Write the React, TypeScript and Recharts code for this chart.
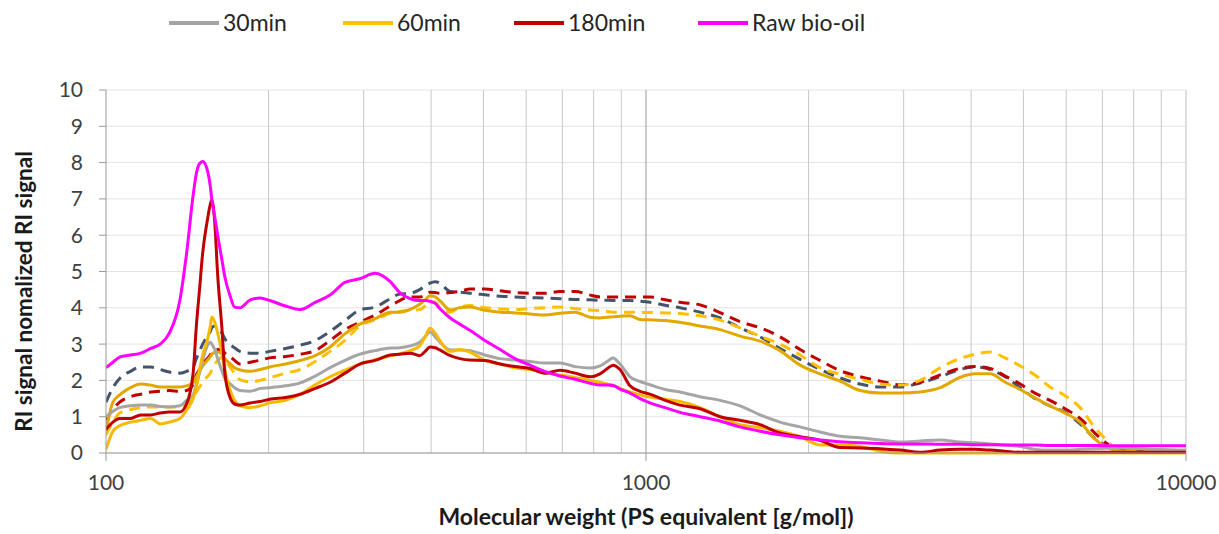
import React from 'react';
import { LineChart, Line, XAxis, YAxis, CartesianGrid, ReferenceLine, Legend, Label } from 'recharts';

// Molecular weight (PS equivalent, g/mol) sample points
const molecularWeight = [
  100, 103, 106, 111, 116, 121, 126, 131, 137, 141,
  145, 147, 149, 151, 154, 156, 157, 159, 161, 164,
  166, 170, 173, 177, 185, 193, 201, 215, 229, 244,
  260, 277, 295, 315, 336, 350, 366, 381, 390, 398,
  407, 415, 434, 452, 472, 503, 537, 572, 610, 650,
  693, 739, 788, 822, 847, 869, 895, 934, 975, 1017,
  1085, 1156, 1259, 1371, 1493, 1626, 1771, 1929, 2100, 2287,
  2491, 2713, 2955, 3218, 3505, 3811, 4065, 4337, 4624, 4930,
  5250, 5598, 5970, 6368, 6780, 7079, 7380, 7870, 8570, 9330, 10000,
];

const raw = [
  2.35, 2.5, 2.64, 2.7, 2.75, 2.88, 3.0, 3.3, 4.2, 5.5,
  7.1, 7.7, 7.97, 8.03, 7.8, 7.35, 7.0, 6.5, 6.0, 5.3,
  4.85, 4.3, 4.02, 4.0, 4.22, 4.27, 4.2, 4.05, 3.95, 4.15,
  4.35, 4.7, 4.8, 4.95, 4.72, 4.42, 4.25, 4.2, 4.2, 4.18,
  4.12, 3.98, 3.72, 3.55, 3.38, 3.1, 2.85, 2.6, 2.42, 2.25,
  2.12, 2.03, 1.92, 1.87, 1.87, 1.86, 1.76, 1.65, 1.5, 1.38,
  1.25, 1.12, 1.0, 0.88, 0.72, 0.6, 0.5, 0.42, 0.36, 0.31,
  0.28, 0.26, 0.25, 0.25, 0.24, 0.24, 0.23, 0.23, 0.22, 0.22,
  0.22, 0.21, 0.21, 0.21, 0.21, 0.2, 0.2, 0.2, 0.2, 0.2, 0.2,
];

const b30Dashed = [
  1.4, 1.8, 2.05, 2.25, 2.37, 2.37, 2.3, 2.23, 2.2, 2.25,
  2.37, 2.6, 2.8, 3.0, 3.2, 3.35, 3.45, 3.5, 3.45, 3.3,
  3.15, 2.98, 2.9, 2.8, 2.75, 2.75, 2.8, 2.88, 2.97, 3.1,
  3.35, 3.65, 3.94, 4.02, 4.25, 4.38, 4.4, 4.5, 4.6, 4.68,
  4.72, 4.68, 4.45, 4.43, 4.4, 4.36, 4.32, 4.3, 4.28, 4.27,
  4.25, 4.23, 4.22, 4.21, 4.21, 4.2, 4.2, 4.2, 4.18, 4.15,
  4.07, 4.0, 3.88, 3.72, 3.45, 3.2, 2.88, 2.58, 2.3, 2.07,
  1.9, 1.82, 1.82, 1.93, 2.1, 2.3, 2.37, 2.3, 2.1, 1.8,
  1.5, 1.3, 1.12, 0.8, 0.4, 0.22, 0.14, 0.1, 0.08, 0.06, 0.05,
];

const b180Dashed = [
  0.9, 1.2, 1.4, 1.55, 1.62, 1.68, 1.7, 1.72, 1.7, 1.72,
  1.9, 2.15, 2.3, 2.45, 2.6, 2.7, 2.78, 2.83, 2.85, 2.83,
  2.75, 2.65, 2.55, 2.45, 2.5, 2.56, 2.62, 2.66, 2.72, 2.82,
  3.1, 3.4, 3.6, 3.8, 4.05, 4.2, 4.3, 4.3, 4.35, 4.43,
  4.42, 4.4, 4.42, 4.45, 4.52, 4.52, 4.47, 4.42, 4.4, 4.4,
  4.45, 4.45, 4.35, 4.3, 4.3, 4.3, 4.3, 4.3, 4.3, 4.3,
  4.22, 4.15, 4.08, 3.87, 3.62, 3.45, 3.2, 2.85, 2.55, 2.27,
  2.1, 1.98, 1.88, 1.95, 2.15, 2.33, 2.38, 2.33, 2.12, 1.9,
  1.65, 1.45, 1.22, 0.95, 0.55, 0.3, 0.15, 0.06, 0.03, 0.03, 0.03,
];

const b60Dashed = [
  0.5, 0.85, 1.1, 1.2, 1.25, 1.27, 1.27, 1.27, 1.27, 1.35,
  1.54, 1.68, 1.82, 1.95, 2.1, 2.2, 2.3, 2.45, 2.55, 2.64,
  2.55, 2.35, 2.2, 2.02, 1.96, 2.0, 2.07, 2.2, 2.3, 2.52,
  2.8, 3.1, 3.5, 3.67, 3.85, 3.9, 3.93, 3.95, 4.05, 4.15,
  4.15, 4.0, 3.88, 4.02, 4.06, 4.0, 3.97, 3.95, 3.98, 4.0,
  4.02, 3.98, 3.94, 3.92, 3.9, 3.88, 3.88, 3.88, 3.87, 3.87,
  3.86, 3.84, 3.78, 3.66, 3.45, 3.22, 3.0, 2.7, 2.35, 2.17,
  2.03, 1.9, 1.87, 2.0, 2.35, 2.6, 2.72, 2.78, 2.62, 2.4,
  2.15, 1.82, 1.58, 1.25, 0.7, 0.4, 0.15, 0.05, 0.03, 0.02, 0.02,
];

const b60Solid = [
  0.6, 1.4, 1.6, 1.8, 1.9, 1.87, 1.82, 1.82, 1.82, 1.85,
  1.93, 2.1, 2.25, 2.4, 2.55, 2.65, 2.72, 2.77, 2.78, 2.72,
  2.6, 2.45, 2.35, 2.29, 2.25, 2.3, 2.37, 2.45, 2.55, 2.68,
  2.92, 3.28, 3.55, 3.7, 3.88, 3.88, 3.96, 4.1, 4.22, 4.33,
  4.3, 4.2, 3.94, 4.0, 4.02, 3.93, 3.88, 3.86, 3.83, 3.8,
  3.85, 3.88, 3.74, 3.72, 3.74, 3.75, 3.77, 3.78, 3.68, 3.67,
  3.65, 3.6, 3.5, 3.4, 3.22, 3.08, 2.82, 2.42, 2.18, 1.98,
  1.72, 1.65, 1.65, 1.68, 1.8, 2.08, 2.18, 2.18, 1.95, 1.75,
  1.52, 1.3, 1.1, 0.85, 0.38, 0.18, 0.08, 0.03, 0.02, 0.02, 0.02,
];

const a30 = [
  1.0, 1.15, 1.25, 1.3, 1.32, 1.32, 1.28, 1.27, 1.3, 1.45,
  1.6, 1.9, 2.2, 2.55, 2.95, 3.05, 3.0, 2.85, 2.6, 2.25,
  2.05, 1.9, 1.8, 1.72, 1.7, 1.78, 1.8, 1.85, 1.93, 2.12,
  2.35, 2.55, 2.72, 2.82, 2.89, 2.9, 2.95, 3.05, 3.2, 3.33,
  3.2, 3.06, 2.84, 2.84, 2.82, 2.7, 2.6, 2.56, 2.52, 2.48,
  2.48, 2.38, 2.34, 2.4, 2.52, 2.62, 2.45, 2.1, 1.97, 1.88,
  1.75, 1.68, 1.55, 1.45, 1.3, 1.05, 0.85, 0.72, 0.58, 0.46,
  0.42, 0.36, 0.3, 0.33, 0.36, 0.3, 0.28, 0.25, 0.22, 0.18,
  0.1, 0.08, 0.08, 0.1, 0.12, 0.13, 0.14, 0.13, 0.1, 0.09, 0.08,
];

const a60 = [
  0.1, 0.6, 0.75, 0.85, 0.9, 0.95, 0.8, 0.85, 0.95, 1.18,
  1.5, 1.82, 2.3, 2.7, 3.1, 3.5, 3.75, 3.6, 3.3, 2.75,
  2.3, 1.7, 1.45, 1.3, 1.25, 1.3, 1.38, 1.45, 1.62, 1.88,
  2.1, 2.28, 2.45, 2.57, 2.68, 2.73, 2.82, 2.95, 3.2, 3.44,
  3.3, 3.1, 2.8, 2.85, 2.78, 2.55, 2.45, 2.35, 2.3, 2.22,
  2.15, 2.08, 2.0, 1.95, 1.9, 1.87, 1.78, 1.68, 1.6, 1.54,
  1.48, 1.42, 1.25, 1.0, 0.78, 0.7, 0.6, 0.45, 0.22, 0.22,
  0.18, 0.05, 0, 0, 0, 0, 0, 0, 0, 0,
  0, 0, 0, 0, 0, 0, 0, 0, 0, 0, 0,
];

const a180 = [
  0.65, 0.85, 0.95, 0.95, 1.05, 1.05, 1.1, 1.13, 1.13, 1.35,
  2.2, 3.5, 4.5, 5.5, 6.4, 6.85, 6.97, 6.35, 4.9, 3.4,
  2.2, 1.5, 1.35, 1.32, 1.38, 1.42, 1.48, 1.53, 1.62, 1.78,
  1.95, 2.2, 2.45, 2.55, 2.7, 2.72, 2.75, 2.68, 2.8, 2.92,
  2.9, 2.84, 2.68, 2.6, 2.56, 2.55, 2.45, 2.38, 2.33, 2.2,
  2.28, 2.2, 2.1, 2.18, 2.32, 2.42, 2.3, 1.85, 1.7, 1.62,
  1.45, 1.32, 1.22, 1.0, 0.9, 0.78, 0.55, 0.45, 0.35, 0.15,
  0.14, 0.12, 0.08, 0.02, 0.08, 0.1, 0.1, 0.08, 0.05, 0.02,
  0.02, 0.02, 0.02, 0.02, 0.02, 0.02, 0.02, 0.02, 0.02, 0.02, 0.02,
];

const legendLabels = ['30min', '60min', '180min', 'Raw bio-oil'];
const legendColors = ['#A5A5A5', '#FFC000', '#C00000', '#FF00FF'];

const xTicks = [100, 1000, 10000];
const yTicks = [0, 1, 2, 3, 4, 5, 6, 7, 8, 9, 10];
const minorGrid = [200, 300, 400, 500, 600, 700, 800, 900, 2000, 3000, 4000, 5000, 6000, 7000, 8000, 9000];

const data = molecularWeight.map((mw, i) => ({
  mw,
  raw: raw[i],
  b30d: b30Dashed[i],
  b180d: b180Dashed[i],
  b60d: b60Dashed[i],
  b60s: b60Solid[i],
  a30: a30[i],
  a60: a60[i],
  a180: a180[i],
}));

const series = [
  { key: 'b30d', color: '#44546A', dash: '11 7' },
  { key: 'b180d', color: '#C00000', dash: '11 7' },
  { key: 'b60d', color: '#FFC000', dash: '11 7' },
  { key: 'b60s', color: '#E3A800', dash: undefined },
  { key: 'a30', color: '#A5A5A5', dash: undefined },
  { key: 'a60', color: '#F7B900', dash: undefined },
  { key: 'a180', color: '#C00000', dash: undefined },
  { key: 'raw', color: '#FF00FF', dash: undefined },
];

const FONT = 'Lato, "Open Sans", sans-serif';
const legendX = [169, 343, 514, 698];

const renderLegend = () => (
  <div style={{ position: 'relative', height: 0 }}>
    {legendLabels.map((label, i) => (
      <div
        key={label}
        style={{
          position: 'absolute',
          left: legendX[i],
          top: 9,
          display: 'flex',
          alignItems: 'center',
          whiteSpace: 'nowrap',
        }}
      >
        <span style={{ display: 'inline-block', width: 50, height: 4, background: legendColors[i], marginRight: 4 }} />
        <span style={{ fontFamily: FONT, fontSize: 23, color: '#262626', lineHeight: '27px' }}>{label}</span>
      </div>
    ))}
  </div>
);

const YTitle = (props: any) => {
  const vb = props.viewBox || {};
  const cx = vb.x - 23;
  const cy = vb.y + vb.height / 2 + 20;
  return (
    <text
      x={cx}
      y={cy}
      transform={`rotate(-90, ${cx}, ${cy})`}
      textAnchor="middle"
      dominantBaseline="central"
      style={{ fontFamily: FONT, fontSize: 22.5, fontWeight: 700, fill: '#1a1a1a' }}
    >
      RI signal nomalized RI signal
    </text>
  );
};

export default function App() {
  return (
    <div style={{ position: 'absolute', left: 0, top: 0, width: 1219, height: 534, background: '#fff' }}>
      <LineChart width={1219} height={534} data={data} margin={{ top: 90, right: 33, bottom: 6, left: 46 }}>
        <CartesianGrid vertical={false} stroke="#E4E4E4" strokeWidth={1} />
        {minorGrid.map((v) => (
          <ReferenceLine key={v} x={v} stroke="#C8C8C8" strokeWidth={1} />
        ))}
        <ReferenceLine x={1000} stroke="#9A9A9A" strokeWidth={1} />
        <ReferenceLine x={10000} stroke="#BDBDBD" strokeWidth={1} />
        <XAxis
          dataKey="mw"
          type="number"
          scale="log"
          domain={[100, 10000]}
          ticks={xTicks}
          allowDataOverflow
          height={75}
          tickSize={8}
          tickMargin={14}
          axisLine={{ stroke: '#9A9A9A' }}
          tickLine={{ stroke: '#9A9A9A' }}
          tick={{ fontFamily: FONT, fontSize: 21, fill: '#404040' }}
        >
          <Label
            value="Molecular weight (PS equivalent [g/mol])"
            position="insideBottom"
            offset={3}
            style={{ fontFamily: FONT, fontSize: 23, fontWeight: 700, fill: '#1a1a1a' }}
          />
        </XAxis>
        <YAxis
          type="number"
          domain={[0, 10]}
          ticks={yTicks}
          width={60}
          tickSize={7}
          tickMargin={16}
          axisLine={{ stroke: '#9A9A9A' }}
          tickLine={{ stroke: '#9A9A9A' }}
          tick={{ fontFamily: FONT, fontSize: 21, fill: '#404040' }}
          interval={0}
        >
          <Label content={<YTitle />} />
        </YAxis>
        <Legend content={renderLegend} wrapperStyle={{ position: 'absolute', top: 0, left: 0, width: 1219, height: 0 }} />
        {series.map((s) => (
          <Line
            key={s.key}
            dataKey={s.key}
            type="monotone"
            stroke={s.color}
            strokeWidth={3}
            strokeDasharray={s.dash}
            dot={false}
            activeDot={false}
            isAnimationActive={false}
          />
        ))}
      </LineChart>
    </div>
  );
}
